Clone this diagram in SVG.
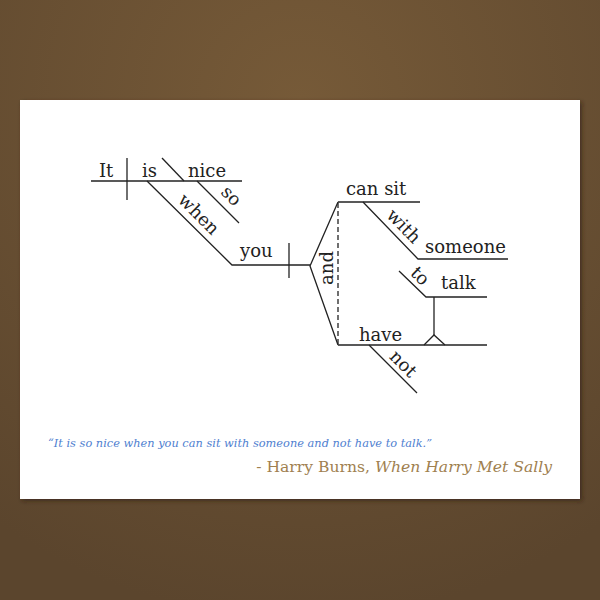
<svg xmlns="http://www.w3.org/2000/svg" width="600" height="600" viewBox="0 0 600 600">
<defs>
<radialGradient id="bg" cx="300" cy="100" r="520" gradientUnits="userSpaceOnUse">
<stop offset="0" stop-color="#765a38"/>
<stop offset="1" stop-color="#5b452d"/>
</radialGradient>
<filter id="sh" x="-5%" y="-5%" width="110%" height="110%">
<feDropShadow dx="2" dy="2" stdDeviation="2" flood-color="#2a1e10" flood-opacity="0.6"/>
</filter>
<style>
.w{font-family:"DejaVu Serif","Liberation Serif",serif;font-size:18px;fill:#222}
.ln{stroke:#222;stroke-width:1.3;fill:none}
.q{font-family:"DejaVu Serif","Liberation Serif",serif;font-size:11.8px;font-style:italic;fill:#4f80d0}
.a{font-family:"DejaVu Serif","Liberation Serif",serif;font-size:15.6px;fill:#a0804f}
</style>
</defs>
<rect width="600" height="600" fill="url(#bg)"/>
<rect x="20" y="100" width="560" height="399" fill="#fff" filter="url(#sh)"/>
<g id="connectors" class="ln">
<path d="M91 181H242"/>
<path d="M127 158V200"/>
<path d="M162 158L184 181"/>
<path d="M197 181L239 223"/>
<path d="M147 181L232 265H310"/>
<path d="M289 243V278"/>
<path d="M338 202L310 266L338 345"/>
<path d="M338 202H420"/>
<path d="M338 203V345" stroke-dasharray="5,3"/>
<path d="M363 202L418 259H508"/>
<path d="M399 271L426 297H487"/>
<path d="M434 297V335"/>
<path d="M424 345L434 335L445 345"/>
<path d="M338 345H487"/>
<path d="M369 345L417 393"/>
</g>
<g id="it"><text class="w" x="99" y="177">It</text></g>
<g id="is"><text class="w" x="142" y="177">is</text></g>
<g id="nice"><text class="w" x="188" y="177">nice</text></g>
<g id="so"><text class="w" text-anchor="middle" transform="translate(227,200) rotate(45)">so</text></g>
<g id="when"><text class="w" text-anchor="middle" transform="translate(194.5,218.5) rotate(45)">when</text></g>
<g id="you"><text class="w" x="240" y="257">you</text></g>
<g id="and"><text class="w" text-anchor="middle" transform="translate(333,268) rotate(-90)">and</text></g>
<g id="cansit"><text class="w" x="346" y="195">can sit</text></g>
<g id="with"><text class="w" text-anchor="middle" transform="translate(399.4,230.3) rotate(46)">with</text></g>
<g id="someone"><text class="w" x="425" y="253">someone</text></g>
<g id="to"><text class="w" text-anchor="middle" transform="translate(415.9,280.3) rotate(44)">to</text></g>
<g id="talk"><text class="w" x="441" y="289">talk</text></g>
<g id="have"><text class="w" x="359" y="341">have</text></g>
<g id="not"><text class="w" text-anchor="middle" transform="translate(399,368) rotate(45)">not</text></g>
<g id="quote"><text class="q" x="48" y="447" textLength="384" lengthAdjust="spacingAndGlyphs">“It is so nice when you can sit with someone and not have to talk.”</text></g>
<g id="author"><text class="a" x="552" y="472" text-anchor="end">- Harry Burns, <tspan font-style="italic">When Harry Met Sally</tspan></text></g>
</svg>
